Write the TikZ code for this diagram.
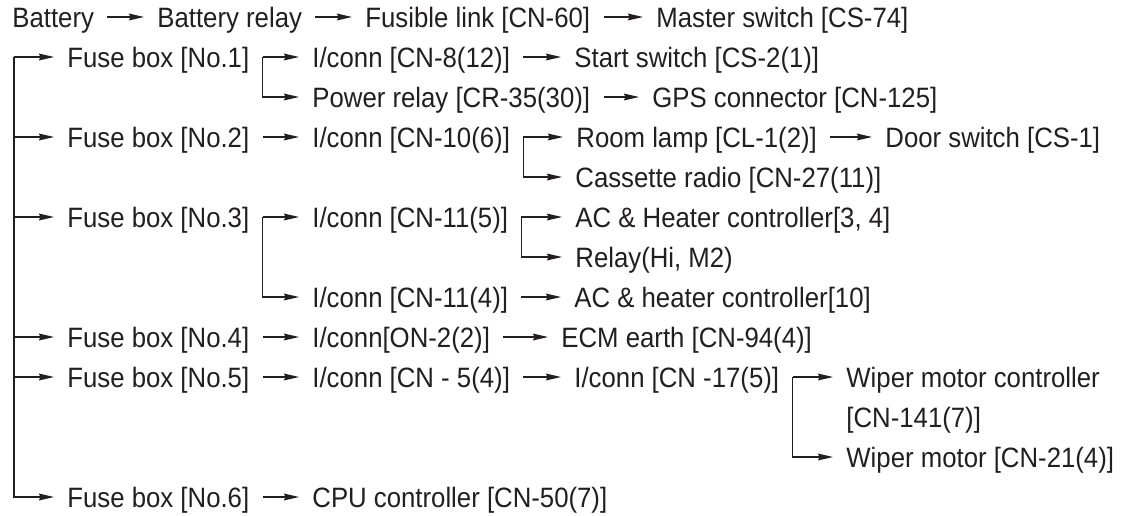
\documentclass[tikz,border=0pt]{standalone}
\usepackage{fontspec}
\setmainfont{Liberation Sans}[FakeStretch=0.92]
\usepackage{tikz}
\usetikzlibrary{arrows.meta}
\definecolor{wireink}{RGB}{35,31,32}
\tikzstyle{entry} = [anchor=west, inner xsep=6.5pt, inner ysep=0pt, text height=12.4pt, text depth=2.38pt, text=wireink, font=\fontsize{14pt}{16pt}\selectfont]
\tikzstyle{arrow} = [line width=0.6pt, draw=wireink, -{Stealth[length=7.5pt,width=3.4pt,inset=0.8pt]}]
\tikzstyle{wire} = [line width=0.6pt, draw=wireink]

\begin{document}
\begin{tikzpicture}[x=0.5pt, y=-0.5pt]
\path[use as bounding box, fill=white] (0,0) rectangle (1127,515);
% top chain
\node (batt) [entry] at (-1,17) {Battery};
\node (brelay) [entry] at (144,17) {Battery relay};
\node (flink) [entry] at (352,17) {Fusible link [CN-60]};
\node (master) [entry] at (643,17) {Master switch [CS-74]};
% fuse boxes
\node (fuse1) [entry] at (54,57) {Fuse box [No.1]};
\node (fuse2) [entry] at (54,137) {Fuse box [No.2]};
\node (fuse3) [entry] at (54,217) {Fuse box [No.3]};
\node (fuse4) [entry] at (54,337) {Fuse box [No.4]};
\node (fuse5) [entry] at (54,377) {Fuse box [No.5]};
\node (fuse6) [entry] at (54,497) {Fuse box [No.6]};
% second column
\node (conn8) [entry] at (299,57) {I/conn [CN-8(12)]};
\node (prelay) [entry] at (299,97) {Power relay [CR-35(30)]};
\node (conn10) [entry] at (299,137) {I/conn [CN-10(6)]};
\node (conn11a) [entry] at (299,217) {I/conn [CN-11(5)]};
\node (conn11b) [entry] at (299,297) {I/conn [CN-11(4)]};
\node (conn2) [entry] at (299,337) {I/conn[ON-2(2)]};
\node (conn5) [entry] at (299,377) {I/conn [CN - 5(4)]};
\node (cpu) [entry] at (299,497) {CPU controller [CN-50(7)]};
% third column
\node (startsw) [entry] at (561,57) {Start switch [CS-2(1)]};
\node (gps) [entry] at (639,97) {GPS connector [CN-125]};
\node (lamp) [entry] at (563,137) {Room lamp [CL-1(2)]};
\node (door) [entry] at (872,137) {Door switch [CS-1]};
\node (radio) [entry] at (562,177) {Cassette radio [CN-27(11)]};
\node (acheat) [entry] at (562,217) {AC \& Heater controller[3, 4]};
\node (hirelay) [entry] at (562,257) {Relay(Hi, M2)};
\node (acheatb) [entry] at (561,297) {AC \& heater controller[10]};
\node (ecm) [entry] at (548,337) {ECM earth [CN-94(4)]};
\node (conn17) [entry] at (561,377) {I/conn [CN -17(5)]};
\node (wipctl) [entry] at (833,377) {Wiper motor controller};
\node (wipno) [entry] at (833,417) {[CN-141(7)]};
\node (wipmot) [entry] at (833,457) {Wiper motor [CN-21(4)]};

% connectors
\draw[arrow] (batt) -- (brelay);
\draw[arrow] (brelay) -- (flink);
\draw[arrow] (flink) -- (master);
\coordinate (trunk) at (14,57);
\draw[arrow] (trunk) -- (fuse1);
\foreach \f in {fuse2,fuse3,fuse4,fuse5,fuse6}
  \draw[arrow] (trunk) |- (\f);
\draw[arrow] (fuse1.east) -- (conn8);
\draw[arrow] (fuse1.east) |- (prelay);
\draw[arrow] (conn8) -- (startsw);
\draw[arrow] (prelay) -- (gps);
\draw[arrow] (fuse2) -- (conn10);
\draw[arrow] (conn10.east) -- (lamp);
\draw[arrow] (conn10.east) |- (radio);
\draw[arrow] (lamp) -- (door);
\draw[arrow] (fuse3.east) -- (conn11a);
\draw[arrow] (fuse3.east) |- (conn11b);
\draw[arrow] (conn11a.east) -- (acheat);
\draw[arrow] (conn11a.east) |- (hirelay);
\draw[arrow] (conn11b) -- (acheatb);
\draw[arrow] (fuse4) -- (conn2);
\draw[arrow] (conn2) -- (ecm);
\draw[arrow] (fuse5) -- (conn5);
\draw[arrow] (conn5) -- (conn17);
\draw[arrow] (conn17.east) -- (wipctl);
\draw[arrow] (conn17.east) |- (wipmot);
\draw[arrow] (fuse6) -- (cpu);
\end{tikzpicture}
\end{document}
